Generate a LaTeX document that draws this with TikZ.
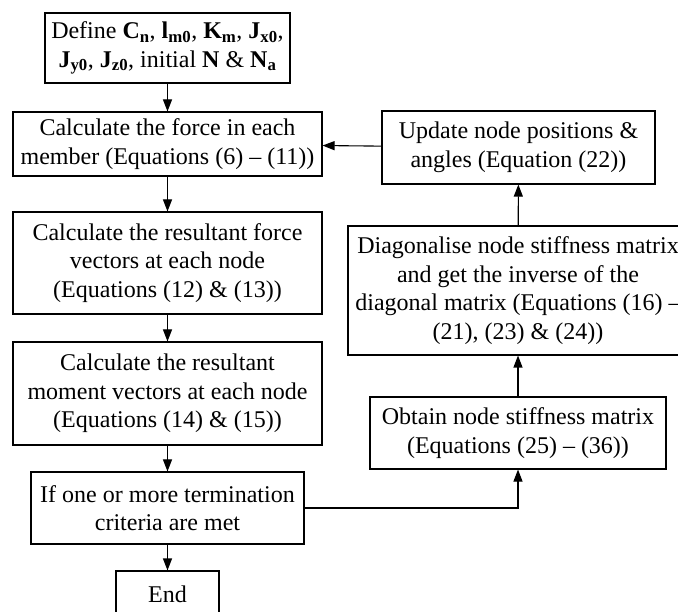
\documentclass[tikz,border=0pt]{standalone}
\usepackage{fontspec}
\setmainfont{Liberation Serif}
\usetikzlibrary{arrows.meta}
\newcommand{\bsub}[2]{\textbf{#1\textsubscript{#2}}}
\begin{document}
\begin{tikzpicture}[x=1pt,y=-1pt,
  box/.style={draw,line width=1.1pt,align=center,inner sep=0pt,
    font=\fontsize{24}{28.5}\selectfont},
  arr/.style={-{Triangle[length=12pt,width=9pt]},line width=1.1pt}]
\useasboundingbox (0,0) rectangle (678,612);
\node[box,minimum width=245,minimum height=70] (def) at (167.5,48)
  {Define \bsub{C}{n}, \bsub{l}{m0}, \bsub{K}{m}, \bsub{J}{x0},\\
   \bsub{J}{y0}, \bsub{J}{z0}, initial \textbf{N} \& \bsub{N}{a}};
\node[box,minimum width=309,minimum height=64] (force) at (167.5,144)
  {Calculate the force in each\\member (Equations (6) -- (11))};
\node[box,minimum width=309,minimum height=102] (res) at (167.5,263)
  {Calculate the resultant force\\vectors at each node\\(Equations (12) \& (13))};
\node[box,minimum width=309,minimum height=103] (mom) at (167.5,393.5)
  {Calculate the resultant\\moment vectors at each node\\(Equations (14) \& (15))};
\node[box,minimum width=273,minimum height=72] (term) at (167.5,508)
  {If one or more termination\\criteria are met};
\node[box,minimum width=103,minimum height=46] (end) at (167.5,594)
  {End};
\node[box,minimum width=273,minimum height=73] (upd) at (518.5,147.5)
  {Update node positions \&\\angles (Equation (22))};
\node[box,minimum width=340,minimum height=129] (diag) at (518,290.5)
  {Diagonalise node stiffness matrix\\and get the inverse of the\\diagonal matrix (Equations (16) --\\(21), (23) \& (24))};
\node[box,minimum width=296,minimum height=72] (obt) at (518,433)
  {Obtain node stiffness matrix\\(Equations (25) -- (36))};
\draw[arr] (def) -- (force);
\draw[arr] (force) -- (res);
\draw[arr] (res) -- (mom);
\draw[arr] (mom) -- (term);
\draw[arr] (term) -- (end);
\draw[arr] (term.east) -| (obt.south);
\draw[arr] (obt) -- (diag);
\draw[arr] (diag) -- (upd);
\draw[arr] (upd) -- (force);
\end{tikzpicture}
\end{document}
